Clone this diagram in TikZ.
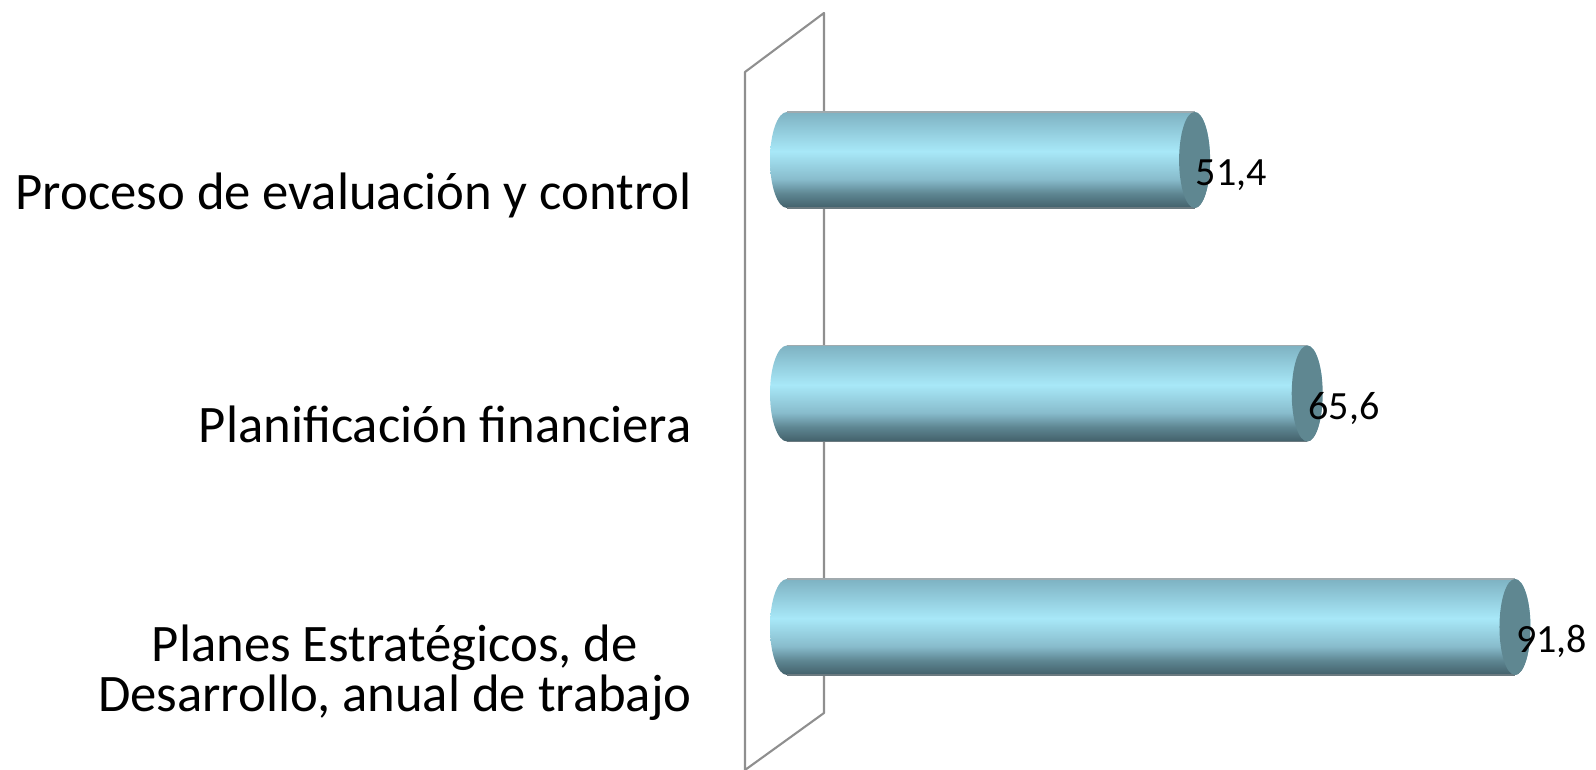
\documentclass[tikz,border=0pt]{standalone}
\usepackage{fontspec}
\setmainfont{Carlito}
\definecolor{barbot}{HTML}{42606A}
\definecolor{bardark}{HTML}{5E8692}
\definecolor{barmid}{HTML}{88BCCC}
\definecolor{barlight}{HTML}{A8E8F8}
\definecolor{bartop}{HTML}{7EB2C2}
\definecolor{capcol}{HTML}{5F8791}
\definecolor{wallcol}{HTML}{8F8F8F}
\definecolor{rimtop}{HTML}{A0AAAE}
\definecolor{rimbot}{HTML}{6B7A80}
\pgfdeclareverticalshading{barshade}{100bp}{color(0bp)=(barbot); color(25bp)=(barbot); color(32.5bp)=(bardark); color(40bp)=(barmid); color(54.5bp)=(barlight); color(75bp)=(bartop); color(100bp)=(bartop)}
\tikzset{
  wall/.style={draw=wallcol, line width=1.2pt, line join=round},
  etiqueta/.style={font=\fontsize{30}{28.5}\selectfont, inner sep=0pt},
  valor/.style={font=\fontsize{22.8}{24}\selectfont, inner sep=0pt}
}
\begin{document}
\begin{tikzpicture}[x=0.02cm,y=0.02cm]
        \useasboundingbox (0,0) rectangle (1596,770);
        \draw[wall] (745,0) -- (745,698) -- (824,757) -- (824,57) -- cycle;
        \foreach \i/\v/\txt in {0/51.4/{51,4}, 1/65.6/{65,6}, 2/91.8/{91,8}} {
                \pgfmathsetmacro{\cy}{610-233.5*\i}
                \pgfmathsetmacro{\xr}{787+7.93*\v}
                \shade[shading=barshade] (787,\cy+48) -- (\xr,\cy+48)
                        arc[start angle=90, end angle=-90, x radius=15.5, y radius=48]
                        -- (787,\cy-48)
                        arc[start angle=270, end angle=90, x radius=17, y radius=48] -- cycle;
                \draw[rimtop, line width=0.8pt] (787,\cy+48) -- (\xr,\cy+48);
                \draw[rimbot, line width=0.8pt] (787,\cy-48) -- (\xr,\cy-48);
                \fill[capcol] (\xr,\cy) ellipse[x radius=15.5, y radius=48];
                \node[valor, anchor=base west] (v\i) at (\xr+1,\cy-26) {\txt};
            }
        \node[etiqueta, anchor=base east] (l0) at (692,560) {Proceso de evaluación y control};
        \node[etiqueta, anchor=base east] (l1) at (692,327) {Planificación financiera};
        \node[etiqueta, anchor=base east, align=center] (l2) at (692,58) {Planes Estratégicos, de\\Desarrollo, anual de trabajo};
    \end{tikzpicture}
\end{document}
